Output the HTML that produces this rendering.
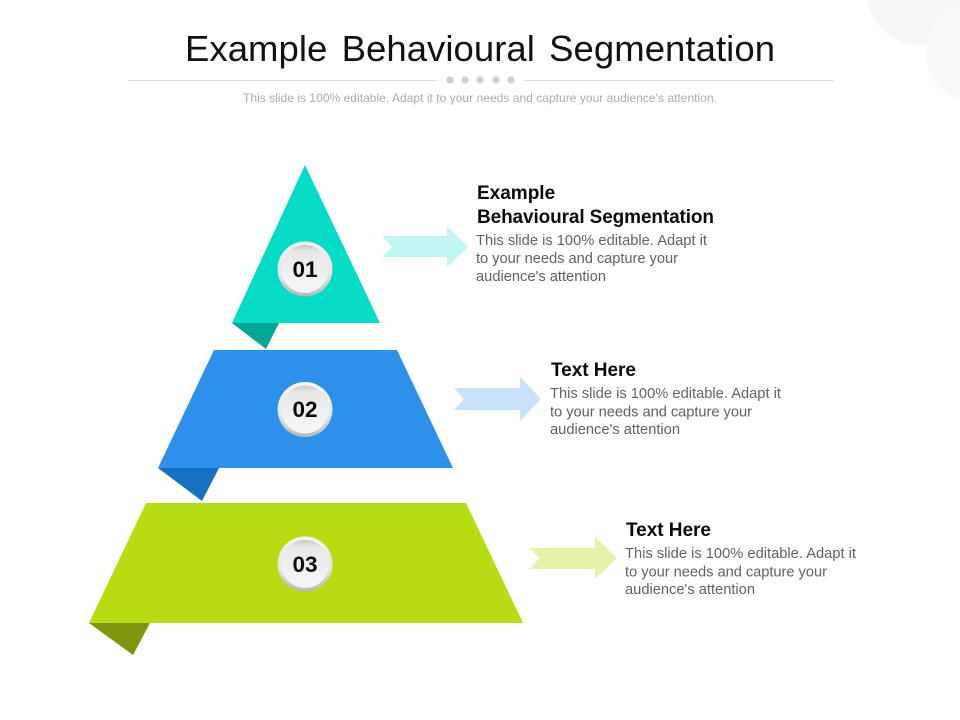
<!DOCTYPE html>
<html><head><meta charset="utf-8"><style>
html,body{margin:0;padding:0;background:#fff}
svg{display:block}
text{font-family:"Liberation Sans",Arial,sans-serif}
.h{font-size:19px;font-weight:bold;fill:#0a0a0a}
.b{font-size:14.7px;fill:#626262}
.n{font-size:22.5px;font-weight:bold;fill:#0a0a0a;text-anchor:middle}
</style></head><body>
<svg width="960" height="720" viewBox="0 0 960 720" xmlns="http://www.w3.org/2000/svg">
<defs>
<linearGradient id="ring" x1="0" y1="0" x2="0" y2="1"><stop offset="0" stop-color="#f6f6f6"/><stop offset=".6" stop-color="#e4e4e6"/><stop offset="1" stop-color="#b8b8bc"/></linearGradient>
<linearGradient id="face" x1="0" y1="0" x2="0" y2="1"><stop offset="0" stop-color="#c6c6c6"/><stop offset=".14" stop-color="#e8e8e8"/><stop offset="1" stop-color="#f6f6f7"/></linearGradient>
</defs>
<circle cx="920" cy="-8" r="53" fill="#f6f6f6"/>
<circle cx="978" cy="52" r="52" fill="#f9f9f9"/>

<text x="185" y="61" font-size="36.5" fill="#111" textLength="590" lengthAdjust="spacing" word-spacing="4">Example Behavioural Segmentation</text>
<rect x="128" y="80" width="309" height="1" fill="#dcdcdc"/>
<rect x="524" y="80" width="310" height="1" fill="#dcdcdc"/>
<g fill="#cfcfcf"><circle cx="450" cy="80" r="3.6"/><circle cx="465" cy="80" r="3.6"/><circle cx="480" cy="80" r="3.6"/><circle cx="496" cy="80" r="3.6"/><circle cx="511" cy="80" r="3.6"/></g>
<text x="243" y="102" font-size="12" fill="#ababab" textLength="474" lengthAdjust="spacing">This slide is 100% editable. Adapt it to your needs and capture your audience's attention.</text>

<polygon points="232,323 279,323 266,349" fill="#02a596"/>
<polygon points="305,165 380,323 232,323" fill="#05dcc8"/>
<polygon points="158,468 219,468 202,501" fill="#1470c2"/>
<polygon points="214,350 397,350 453,468 158,468" fill="#2d90ea"/>
<polygon points="89,623 150,623 133,655" fill="#7c970d"/>
<polygon points="146,503 466,503 523,623 89,623" fill="#b5dd12"/>

<circle cx="305" cy="269" r="27.5" fill="url(#ring)"/><circle cx="305" cy="269" r="24" fill="url(#face)"/>
<text class="n" x="305" y="277">01</text>
<circle cx="305" cy="409.500" r="27.500" fill="url(#ring)"/><circle cx="305" cy="409.500" r="24" fill="url(#face)"/>
<text class="n" x="305" y="417">02</text>
<circle cx="305" cy="564" r="27.500" fill="url(#ring)"/><circle cx="305" cy="564" r="24" fill="url(#face)"/>
<text class="n" x="305" y="572">03</text>

<polygon points="382,236 447,236 447,226 468,247 447,267 447,257 382,257 392,247" fill="#c1f6f2"/>
<polygon points="454,388 520,388 520,377 541,399 520,421 520,410 454,410 464,399" fill="#c6e1f9"/>
<polygon points="529,548 595,548 595,537 617,558 595,579 595,569 529,569 540,558" fill="#e3f4a8"/>

<text class="h" x="477" y="199">Example</text>
<text class="h" x="477" y="223" textLength="237" lengthAdjust="spacing">Behavioural Segmentation</text>
<text class="b" x="476" y="245" textLength="231" lengthAdjust="spacing">This slide is 100% editable. Adapt it</text>
<text class="b" x="476" y="263" textLength="202" lengthAdjust="spacing">to your needs and capture your</text>
<text class="b" x="476" y="281" textLength="130" lengthAdjust="spacing">audience's attention</text>

<text class="h" x="551" y="376" textLength="85" lengthAdjust="spacing">Text Here</text>
<text class="b" x="550" y="398" textLength="231" lengthAdjust="spacing">This slide is 100% editable. Adapt it</text>
<text class="b" x="550" y="416.500" textLength="202" lengthAdjust="spacing">to your needs and capture your</text>
<text class="b" x="550" y="434" textLength="130" lengthAdjust="spacing">audience's attention</text>

<text class="h" x="626" y="536" textLength="85" lengthAdjust="spacing">Text Here</text>
<text class="b" x="625" y="558" textLength="231" lengthAdjust="spacing">This slide is 100% editable. Adapt it</text>
<text class="b" x="625" y="576.500" textLength="202" lengthAdjust="spacing">to your needs and capture your</text>
<text class="b" x="625" y="594" textLength="130" lengthAdjust="spacing">audience's attention</text>
</svg>
</body></html>
